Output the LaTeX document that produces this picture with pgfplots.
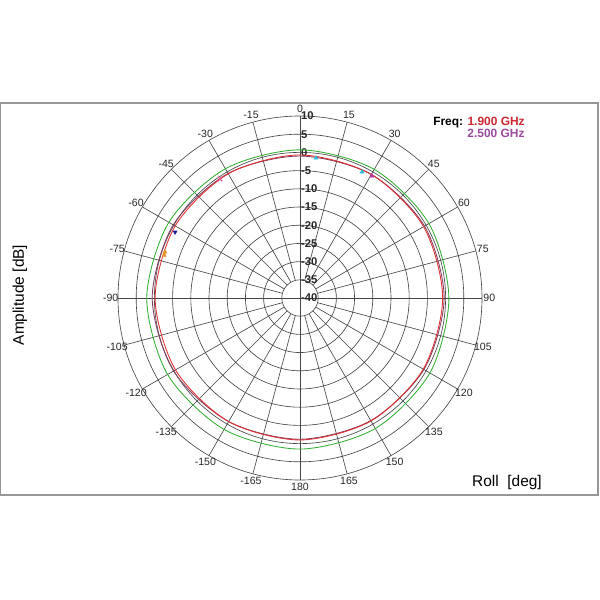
\documentclass[border=0pt]{standalone}
\usepackage{fontspec}
\setmainfont{Liberation Sans}
\usepackage{pgfplots}
\pgfplotsset{compat=1.18}
\usepackage{pgfplotstable}
\definecolor{cRed}{RGB}{225,45,45}
\definecolor{cDark}{RGB}{130,60,95}
\definecolor{cGreen}{RGB}{50,175,50}
\definecolor{cPurple}{RGB}{155,75,160}
\definecolor{cLegRed}{RGB}{205,40,50}
\definecolor{gridc}{RGB}{70,70,70}
\definecolor{frame}{RGB}{150,150,150}

\pgfplotstableread{
deg db
0 -0.7
30 -0.8
60 -0.8
90 -0.8
120 -0.9
150 -1.0
180 -1.0
210 -0.8
240 -0.5
270 -0.2
300 -0.4
330 -0.6
}\redtab

\pgfplotstableread{
deg db
0 -1.0
30 -0.8
60 -0.5
90 -0.4
120 -0.7
150 -1.1
180 -1.2
210 -0.8
240 0.1
270 0.6
300 0.2
330 -0.5
}\darktab

\pgfplotstableread{
deg db
0 0.7
30 0.8
60 0.9
90 0.9
120 1.2
150 1.4
180 1.5
210 1.7
240 2.0
270 2.1
300 1.6
330 1.0
}\greentab

\begin{document}
\begin{tikzpicture}[x=1cm,y=1cm]
\path[use as bounding box] (0,0) rectangle (15,15);
\fill[white] (0,0) rectangle (15,15);
\draw[frame, line width=0.9pt] (0,2.625) rectangle (14.95,12.425);
\begin{scope}[shift={(7.5,7.55)}, x=0.091cm, y=0.091cm]
  \foreach \r in {5,10,...,50} \draw[gridc, line width=0.45pt] (0,0) circle[radius=\r];
  \foreach \a in {0,15,...,345} \draw[gridc, line width=0.45pt] (90-\a:5) -- (90-\a:50);
  \draw[gridc, line width=0.45pt] (0,-5) -- (0,5);
  \draw[gridc, line width=0.45pt] (-5,0) -- (5,0);
  \foreach \a/\l in {0/0,15/15,30/30,45/45,60/60,75/75,90/90,105/105,120/120,135/135,150/150,165/165,180/180,
     -15/-15,-30/-30,-45/-45,-60/-60,-75/-75,-90/-90,-105/-105,-120/-120,-135/-135,-150/-150,-165/-165}
     \node[font=\fontsize{7.5}{9}\selectfont, text=black!85, inner sep=0pt] at (90-\a:52) {\l};
  \foreach \r/\l in {50/10,45/5,40/0,35/-5,30/-10,25/-15,20/-20,15/-25,10/-30,5/-35,0/-40}
     \node[font=\fontsize{8}{9}\selectfont\bfseries, text=black!85, anchor=west, inner sep=0pt] at (0.2,\r) {\l};
\end{scope}

\begin{axis}[at={(7.5cm,7.55cm)}, anchor=origin, x=0.091cm, y=0.091cm,
  xmin=-55, xmax=55, ymin=-55, ymax=55, hide axis, clip=false]
\addplot[cGreen, line width=0.6pt, smooth cycle] table[x expr={(\thisrow{db}+40)*sin(\thisrow{deg})}, y expr={(\thisrow{db}+40)*cos(\thisrow{deg})}] {\greentab};
\addplot[cDark, line width=0.6pt, smooth cycle] table[x expr={(\thisrow{db}+40)*sin(\thisrow{deg})}, y expr={(\thisrow{db}+40)*cos(\thisrow{deg})}] {\darktab};
\addplot[cRed, line width=0.6pt, smooth cycle] table[x expr={(\thisrow{db}+40)*sin(\thisrow{deg})}, y expr={(\thisrow{db}+40)*cos(\thisrow{deg})}] {\redtab};
% markers
\addplot[only marks, mark=triangle*, mark size=1.6pt, color={rgb,255:red,40;green,190;blue,220}] table[x expr={(\thisrow{db}+40)*sin(\thisrow{deg})}, y expr={(\thisrow{db}+40)*cos(\thisrow{deg})}] {
deg db
6.5 -1.3
26.2 -1.4
};
\addplot[only marks, mark=triangle*, mark size=1.6pt, color={rgb,255:red,190;green,50;blue,170}] table[x expr={(\thisrow{db}+40)*sin(\thisrow{deg})}, y expr={(\thisrow{db}+40)*cos(\thisrow{deg})}] {
deg db
30.5 -1.1
};
\addplot[only marks, mark=x, mark size=2.2pt, line width=0.8pt, color={rgb,255:red,230;green,80;blue,130}] table[x expr={(\thisrow{db}+40)*sin(\thisrow{deg})}, y expr={(\thisrow{db}+40)*cos(\thisrow{deg})}] {
deg db
-33.9 -0.6
};
\addplot[only marks, mark=triangle*, mark options={rotate=180}, mark size=1.6pt, color={rgb,255:red,30;green,30;blue,150}] table[x expr={(\thisrow{db}+40)*sin(\thisrow{deg})}, y expr={(\thisrow{db}+40)*cos(\thisrow{deg})}] {
deg db
-62.2 -1.2
};
\addplot[only marks, mark=triangle*, mark size=1.6pt, color={rgb,255:red,235;green,145;blue,40}] table[x expr={(\thisrow{db}+40)*sin(\thisrow{deg})}, y expr={(\thisrow{db}+40)*cos(\thisrow{deg})}] {
deg db
-71.2 -0.8
-72.5 -0.9
};
\end{axis}

\node[rotate=90, font=\fontsize{11}{13}\selectfont] at (0.5,7.625) {Amplitude [dB]};
\node[font=\fontsize{11}{13}\selectfont] at (12.675,2.925) {Roll\ \ [deg]};
\node[anchor=base west, inner sep=0pt, font=\fontsize{8.5}{10}\selectfont\bfseries] at (10.825,11.87) {Freq: \textcolor{cLegRed}{1.900 GHz}};
\node[anchor=base west, inner sep=0pt, font=\fontsize{8.5}{10}\selectfont\bfseries, text=cPurple] at (11.68,11.55) {2.500 GHz};
\end{tikzpicture}
\end{document}
